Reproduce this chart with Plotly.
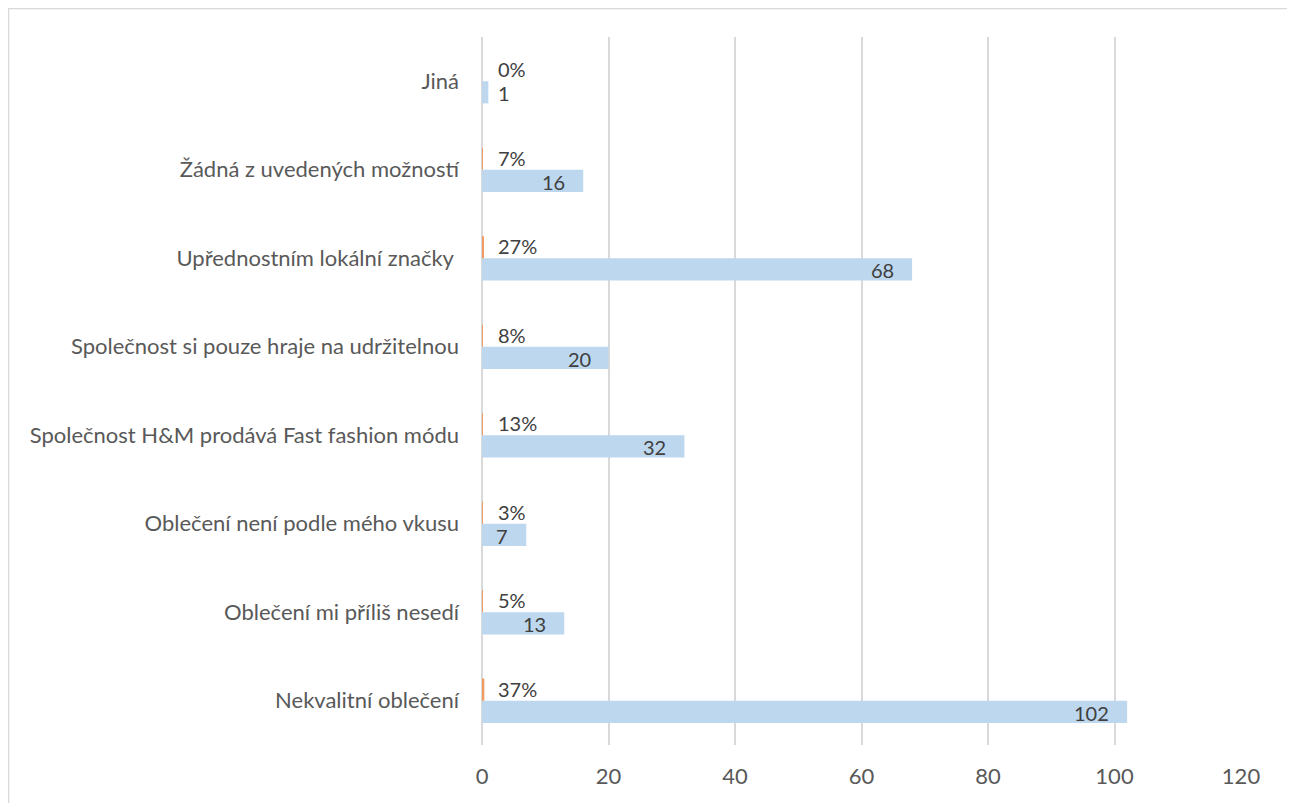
import plotly.graph_objects as go

categories = [
    "Nekvalitní oblečení",
    "Oblečení mi příliš nesedí",
    "Oblečení není podle mého vkusu",
    "Společnost H&M prodává Fast fashion módu",
    "Společnost si pouze hraje na udržitelnou",
    "Upřednostním lokální značky ",
    "Žádná z uvedených možností",
    "Jiná",
]
counts = [102, 13, 7, 32, 20, 68, 16, 1]
shares = [0.37, 0.05, 0.03, 0.13, 0.08, 0.27, 0.07, 0.00]
x_ticks = [0, 20, 40, 60, 80, 100, 120]

FONT = "Lato"
LABEL_COLOR = "#595959"
DATA_COLOR = "#404040"
FS = 22
DFS = 20

fig = go.Figure()
fig.add_trace(go.Bar(
    y=categories, x=counts, orientation="h", name="Počet",
    marker=dict(color="#BDD7EE", line=dict(width=0)),
))
fig.add_trace(go.Bar(
    y=categories, x=shares, orientation="h", name="Podíl",
    marker=dict(color="#F29A62", line=dict(width=0)),
))

annotations = []
for cat, c, s in zip(categories, counts, shares):
    # percentage label (upper bar)
    annotations.append(dict(
        x=0, y=cat, xref="x", yref="y", text=f"{round(s*100)}%",
        showarrow=False, xanchor="left", xshift=14, yshift=12,
        font=dict(family=FONT, size=DFS, color=DATA_COLOR),
    ))
    # count label (lower bar), inside end
    if c >= 5:
        annotations.append(dict(
            x=c, y=cat, xref="x", yref="y", text=str(c),
            showarrow=False, xanchor="right", xshift=-16, yshift=-12,
            font=dict(family=FONT, size=DFS, color=DATA_COLOR),
        ))
    else:
        annotations.append(dict(
            x=0, y=cat, xref="x", yref="y", text=str(c),
            showarrow=False, xanchor="left", xshift=14, yshift=-12,
            font=dict(family=FONT, size=DFS, color=DATA_COLOR),
        ))

fig.update_layout(
    width=1287, height=795,
    margin=dict(l=474, r=54, t=29, b=58),
    paper_bgcolor="white", plot_bgcolor="white",
    barmode="group", bargap=0.5, bargroupgap=0,
    showlegend=False,
    font=dict(family=FONT, size=FS, color=LABEL_COLOR),
    annotations=annotations,
    shapes=[dict(
        type="rect", xref="paper", yref="paper",
        x0=-0.6238, x1=1.0619, y0=-0.2, y1=1.0403,
        line=dict(color="#D9D9D9", width=1.5), fillcolor="rgba(0,0,0,0)",
        layer="below",
    )],
)
fig.update_xaxes(
    range=[0, 120], tickvals=x_ticks, showgrid=True, gridcolor="#D9D9D9",
    gridwidth=1.5, zeroline=True, zerolinecolor="#D9D9D9", zerolinewidth=1.5,
    showline=False, ticks="", tickfont=dict(family=FONT, size=FS, color=LABEL_COLOR),
    ticklabelstandoff=16, fixedrange=True,
)
fig.update_yaxes(
    type="category", categoryorder="array", categoryarray=categories,
    showgrid=False, zeroline=False, showline=False, ticks="",
    ticklabelstandoff=22,
    tickfont=dict(family=FONT, size=FS, color=LABEL_COLOR), fixedrange=True,
)

fig.write_html("out.html")
